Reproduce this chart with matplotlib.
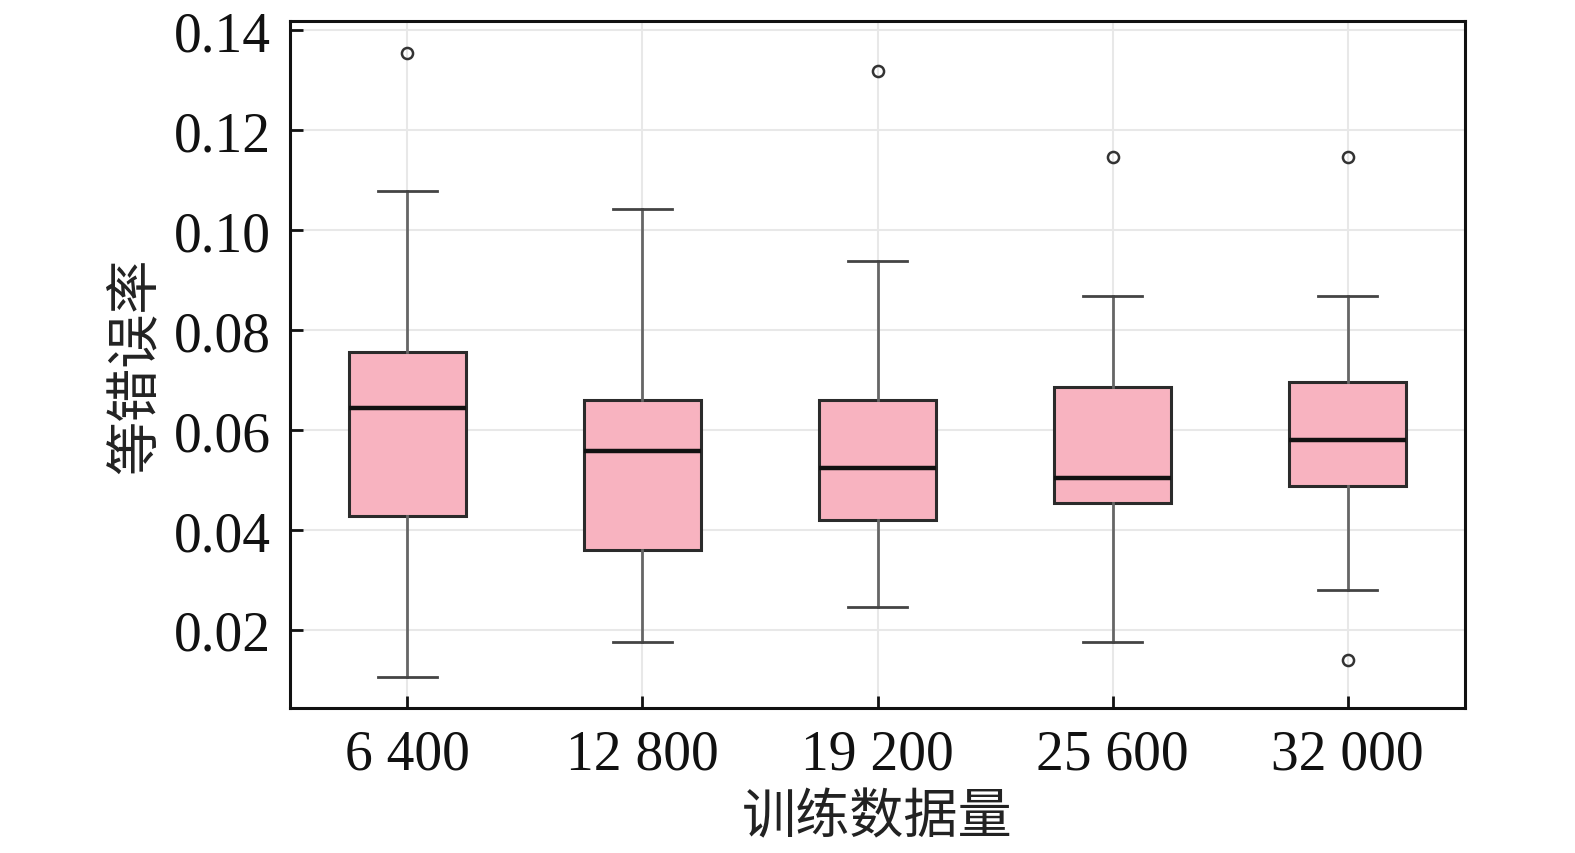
import matplotlib
matplotlib.use("Agg")
import matplotlib.pyplot as plt

categories = ["6 400", "12 800", "19 200", "25 600", "32 000"]
whisker_low = [0.0106, 0.0176, 0.0246, 0.0176, 0.0280]
q1 = [0.0428, 0.0360, 0.0420, 0.0454, 0.0488]
median = [0.0644, 0.0558, 0.0524, 0.0504, 0.0580]
q3 = [0.0756, 0.0660, 0.0660, 0.0686, 0.0696]
whisker_high = [0.1078, 0.1042, 0.0938, 0.0868, 0.0868]
outliers = [[0.1354], [], [0.1318], [0.1146], [0.1146, 0.0140]]
yticks = [0.02, 0.04, 0.06, 0.08, 0.10, 0.12, 0.14]

serif = ["Liberation Serif", "DejaVu Serif"]
cjk = ["Noto Sans CJK SC", "DejaVu Sans"]

fig = plt.figure(figsize=(15.75, 8.54), dpi=100)
ax = fig.add_axes([0.1841, 0.1698, 0.7461, 0.8044])

stats = []
for i, name in enumerate(categories):
    stats.append({
        "label": name,
        "whislo": whisker_low[i],
        "q1": q1[i],
        "med": median[i],
        "q3": q3[i],
        "whishi": whisker_high[i],
        "fliers": outliers[i],
    })

positions = list(range(1, len(categories) + 1))
ax.bxp(stats, positions=positions, widths=0.5, patch_artist=True,
       boxprops=dict(facecolor="#f8b3c0", edgecolor="#2b2b2b", linewidth=2.2),
       medianprops=dict(color="#111111", linewidth=3.2),
       whiskerprops=dict(color="#666666", linewidth=2),
       capprops=dict(color="#444444", linewidth=2),
       flierprops=dict(marker="o", markerfacecolor="none", markeredgecolor="#333333",
                       markersize=8, markeredgewidth=1.8),
       zorder=3)

ax.set_xlim(0.5, len(categories) + 0.5)
ax.set_ylim(0.0044, 0.1418)
ax.set_yticks(yticks)
ax.set_yticklabels([f"{v:.2f}" for v in yticks], family=serif, fontsize=40)
ax.set_xticks(positions)
ax.set_xticklabels(categories, family=serif, fontsize=40)

ax.grid(True, color="#e8e8e8", linewidth=1.5, zorder=0)
ax.set_axisbelow(True)
ax.tick_params(direction="in", length=9, width=2, colors="#111111")
ax.tick_params(axis="y", pad=14)
ax.tick_params(axis="x", pad=15)
for s in ax.spines.values():
    s.set_linewidth(2.2)
    s.set_color("#111111")

ax.set_xlabel("训练数据量", family=cjk, fontsize=39, labelpad=6, color="#222222")
ax.set_ylabel("等错误率", family=cjk, fontsize=39, labelpad=8, color="#222222")

fig.savefig("out.png", dpi=100)
